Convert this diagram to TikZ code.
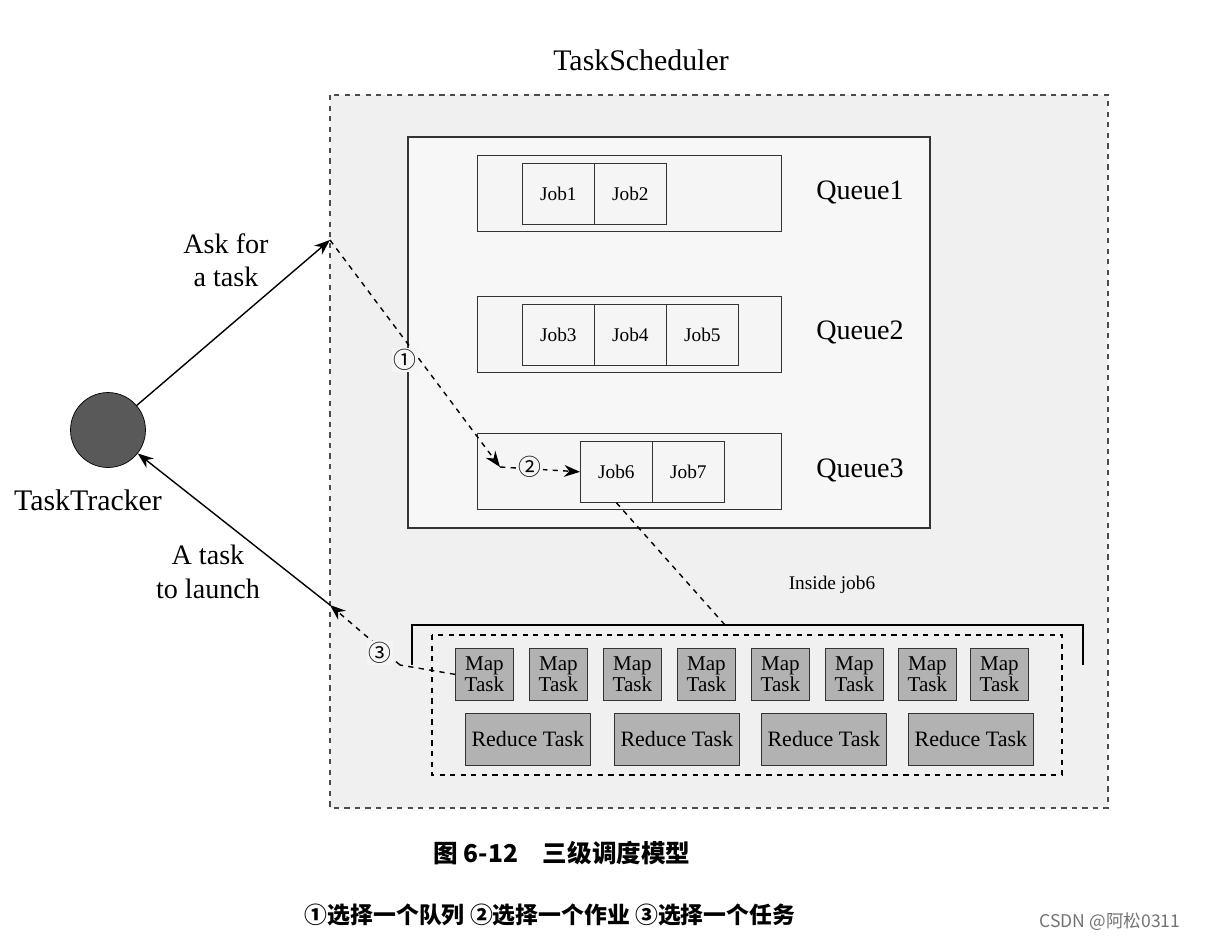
\documentclass[tikz,border=0pt]{standalone}
\usepackage{fontspec}
\setmainfont{Liberation Serif}
\newfontfamily\cjk{Noto Sans CJK SC}
\usetikzlibrary{arrows.meta}
\tikzset{
  jobbox/.style = {draw=black!80, fill=black!4, minimum width=1.44cm, minimum height=1.22cm, font=\fontsize{11}{12}\selectfont, anchor=north west},
  queuebox/.style = {draw=black!80, fill=black!4, minimum width=6.08cm, minimum height=1.52cm, anchor=north west},
  mapbox/.style = {draw=black!80, fill=black!30, minimum width=1.16cm, minimum height=1.04cm, align=center, font=\fontsize{12}{12}\selectfont, inner sep=0pt, anchor=north west},
  redbox/.style = {draw=black!80, fill=black!30, minimum width=2.5cm, minimum height=1.04cm, font=\fontsize{12.5}{13}\selectfont, inner sep=0pt, anchor=north west},
  lbl/.style = {font=\fontsize{16}{19}\selectfont, align=center},
  num/.style = {font=\cjk\fontsize{13}{13}\selectfont, fill=black!4, inner sep=1pt},
  arrow1/.style = {thick, -{Stealth[length=9pt]}},
  arrow2/.style = {thick, dashed, -{Stealth[length=9pt]}}
}
\begin{document}
\begin{tikzpicture}[x=0.02cm, y=-0.02cm]
  \useasboundingbox (0,0) rectangle (1206,944);

  % scheduler frame
  \node [lbl, font=\fontsize{17}{19}\selectfont] (sched) at (641,60) {TaskScheduler};
  \draw [dashed, thick, draw=black!70, fill=black!6] (330,95) rectangle (1108,808);
  \draw [thick, draw=black!80, fill=black!3] (408,137) rectangle (930,528);

  % queues
  \node [queuebox] (q1) at (477,155) {};
  \node [queuebox] (q2) at (477,296) {};
  \node [queuebox] (q3) at (477,433) {};
  \node [lbl] (q1l) at (860,192) {Queue1};
  \node [lbl] (q2l) at (860,332) {Queue2};
  \node [lbl] (q3l) at (860,470) {Queue3};

  \node [jobbox] (job1) at (522,163) {Job1};
  \node [jobbox] (job2) at (594,163) {Job2};
  \node [jobbox] (job3) at (522,304) {Job3};
  \node [jobbox] (job4) at (594,304) {Job4};
  \node [jobbox] (job5) at (666,304) {Job5};
  \node [jobbox] (job6) at (580,441) {Job6};
  \node [jobbox] (job7) at (652,441) {Job7};

  % tracker
  \node [circle, draw=black, fill=black!65, minimum size=1.5cm] (tracker) at (108,430) {};
  \node [lbl, font=\fontsize{17}{19}\selectfont] (trackerl) at (88,500) {TaskTracker};

  \coordinate (ask) at (330,240);
  \coordinate (launch) at (330,605);
  \coordinate (pick) at (500,467);

  \draw [arrow1] (tracker) -- (ask);
  \draw [arrow1, {Stealth[length=9pt]}-] (tracker) -- (launch);
  \node [lbl] (askl) at (226,260) {Ask for\\a task};
  \node [lbl] (launchl) at (208,572) {A task\\to launch};

  \draw [arrow2] (ask) -- (pick);
  \node [num] (n1) at (405,360) {①};
  \draw [arrow2] (pick) -- (job6.west);
  \node [num] (n2) at (530,467) {②};

  % inside job6
  \draw [dashed, thick] (job6.south) -- (725,625);
  \node [font=\fontsize{11}{12}\selectfont] (inside) at (832,585) {Inside job6};
  \draw [thick] (412,665) -- (412,625) -- (1083,625) -- (1083,665);
  \draw [dashed, thick] (432,635) rectangle (1062,775);

  \foreach \i/\x in {1/455,2/529,3/603,4/677,5/751,6/825,7/898,8/970}
    \node [mapbox] (map\i) at (\x,648) {Map\\Task};
  \foreach \i/\x in {1/465,2/614,3/761,4/908}
    \node [redbox] (red\i) at (\x,713) {Reduce Task};

  \coordinate (sel) at (400,665);
  \draw [dashed, thick] (map1.west) -- (sel);
  \draw [arrow2] (sel) -- (launch);
  \node [num] (n3) at (380,653) {③};

  % caption
  \node [font=\cjk\bfseries\fontsize{14}{16}\selectfont] (cap) at (562,853) {图 6-12\quad 三级调度模型};
  \node [font=\cjk\bfseries\fontsize{13}{15}\selectfont] (legend) at (550,915) {①选择一个队列 ②选择一个作业 ③选择一个任务};
  \node [font=\cjk\fontsize{10}{12}\selectfont, text=black!55] (csdn) at (1110,922) {CSDN @阿松0311};
\end{tikzpicture}
\end{document}
